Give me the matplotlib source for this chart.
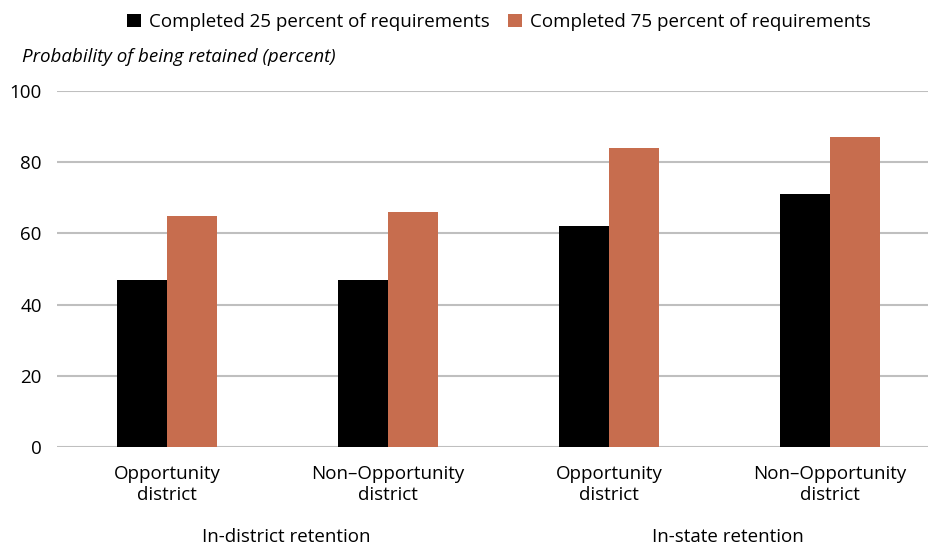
import numpy as np
import matplotlib
matplotlib.use("Agg")
import matplotlib.pyplot as plt

# Data
categories = ["Opportunity\ndistrict", "Non\u2013Opportunity\ndistrict",
              "Opportunity\ndistrict", "Non\u2013Opportunity\ndistrict"]
groups = ["In-district retention", "In-state retention"]
series_names = ["Completed 25 percent of requirements",
                "Completed 75 percent of requirements"]
completed_25 = [47, 47, 62, 71]
completed_75 = [65, 66, 84, 87]
yticks = [0, 20, 40, 60, 80, 100]

plt.rcParams['font.family'] = ['Open Sans', 'DejaVu Sans']
fs = 13.5

fig = plt.figure(figsize=(9.29, 5.46), dpi=100)
W, H = 929, 546
ax = fig.add_axes([57 / W, (H - 447) / H, (W - 57) / W, (447 - 91) / H])

x = np.arange(len(categories))
w = 0.227
ax.bar(x - w / 2, completed_25, w, color="black", label=series_names[0], zorder=3)
ax.bar(x + w / 2, completed_75, w, color="#c76d4e", label=series_names[1], zorder=3)

ax.set_xlim(-0.5, 3.45)
ax.set_ylim(0, 100)
ax.set_yticks(yticks)
ax.set_yticklabels([str(v) for v in yticks], fontsize=fs)
ax.yaxis.grid(True, color="#bfbfbf", linewidth=1.5, zorder=0)
ax.tick_params(axis="y", length=0, pad=11)
ax.tick_params(axis="x", length=0, pad=13)
for s in ax.spines.values():
    s.set_visible(False)

ax.set_xticks(x)
ax.set_xticklabels(categories, fontsize=fs, linespacing=1.2)

# group labels below the category labels
for i, g in enumerate(groups):
    gx = (x[2 * i] + x[2 * i + 1]) / 2 + 0.04
    ax.text(gx, -25.3, g, ha="center", va="center", fontsize=fs,
            transform=ax.transData, clip_on=False)

# axis title
fig.text(22 / W, 1 - 57 / H, "Probability of being retained (percent)",
         fontsize=fs, style="italic", ha="left", va="center")

fig.legend(loc="center", bbox_to_anchor=(499 / W, 1 - 22 / H), ncol=2,
           frameon=False, fontsize=fs, handlelength=0.75, handleheight=0.75,
           handletextpad=0.4, columnspacing=1.0)

plt.savefig("out.png", dpi=100)
